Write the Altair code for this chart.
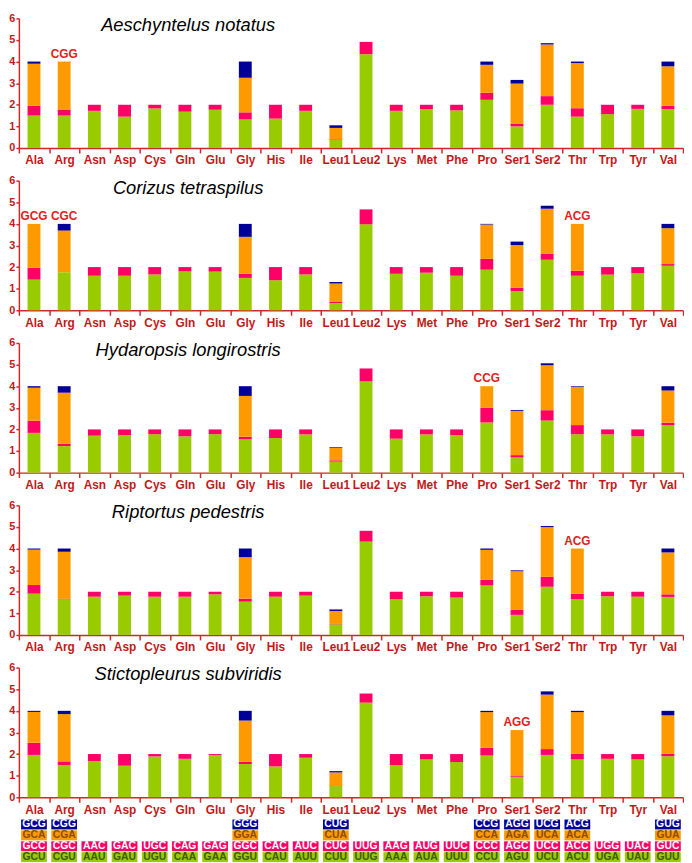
import altair as alt
import pandas as pd

amino = ["Ala", "Arg", "Asn", "Asp", "Cys", "Gln", "Glu", "Gly", "His", "Ile", "Leu1",
         "Leu2", "Lys", "Met", "Phe", "Pro", "Ser1", "Ser2", "Thr", "Trp", "Tyr", "Val"]

species = ["Aeschyntelus notatus", "Corizus tetraspilus", "Hydaropsis longirostris",
           "Riptortus pedestris", "Stictopleurus subviridis"]

# codon position 1 (green, bottom) .. 4 (navy, top)
positions = ["c1", "c2", "c3", "c4"]

an_c1 = [1.50, 1.50, 1.72, 1.45, 1.83, 1.68, 1.77, 1.32, 1.36, 1.72, 0.37, 4.34, 1.72, 1.80, 1.74, 2.23, 1.00, 2.00, 1.45, 1.57, 1.81, 1.80]
an_c2 = [0.45, 0.28, 0.28, 0.55, 0.17, 0.32, 0.23, 0.33, 0.64, 0.28, 0.03, 0.57, 0.28, 0.20, 0.26, 0.33, 0.11, 0.40, 0.39, 0.43, 0.19, 0.16]
an_c3 = [1.95, 2.22, 0, 0, 0, 0, 0, 1.60, 0, 0, 0.53, 0, 0, 0, 0, 1.29, 1.87, 2.39, 2.09, 0, 0, 1.82]
an_c4 = [0.10, 0, 0, 0, 0, 0, 0, 0.75, 0, 0, 0.12, 0, 0, 0, 0, 0.15, 0.17, 0.06, 0.07, 0, 0, 0.22]

ct_c1 = [1.42, 1.76, 1.60, 1.60, 1.66, 1.80, 1.79, 1.50, 1.39, 1.66, 0.34, 3.98, 1.69, 1.74, 1.60, 1.88, 0.89, 2.34, 1.60, 1.65, 1.71, 2.06]
ct_c2 = [0.55, 0, 0.40, 0.40, 0.34, 0.20, 0.21, 0.19, 0.61, 0.34, 0.07, 0.69, 0.31, 0.26, 0.40, 0.50, 0.15, 0.27, 0.23, 0.35, 0.29, 0.08]
ct_c3 = [2.03, 1.93, 0, 0, 0, 0, 0, 1.71, 0, 0, 0.83, 0, 0, 0, 0, 1.59, 1.98, 2.09, 2.17, 0, 0, 1.66]
ct_c4 = [0, 0.31, 0, 0, 0, 0, 0, 0.60, 0, 0, 0.07, 0, 0, 0, 0, 0.03, 0.16, 0.14, 0, 0, 0, 0.20]

hl_c1 = [1.84, 1.23, 1.71, 1.74, 1.78, 1.68, 1.78, 1.54, 1.60, 1.77, 0.51, 4.22, 1.57, 1.77, 1.74, 2.32, 0.70, 2.41, 1.78, 1.77, 1.68, 2.19]
hl_c2 = [0.56, 0.10, 0.29, 0.26, 0.22, 0.32, 0.22, 0.12, 0.40, 0.23, 0.06, 0.60, 0.43, 0.23, 0.26, 0.69, 0.11, 0.48, 0.42, 0.23, 0.32, 0.12]
hl_c3 = [1.53, 2.37, 0, 0, 0, 0, 0, 1.89, 0, 0, 0.58, 0, 0, 0, 0, 0.99, 2.05, 2.08, 1.77, 0, 0, 1.49]
hl_c4 = [0.07, 0.30, 0, 0, 0, 0, 0, 0.45, 0, 0, 0.03, 0, 0, 0, 0, 0, 0.04, 0.09, 0.03, 0, 0, 0.20]

rp_c1 = [1.91, 1.65, 1.77, 1.82, 1.77, 1.77, 1.88, 1.54, 1.77, 1.82, 0.49, 4.32, 1.65, 1.79, 1.73, 2.29, 0.93, 2.23, 1.65, 1.79, 1.77, 1.76]
rp_c2 = [0.40, 0.02, 0.23, 0.18, 0.23, 0.23, 0.12, 0.14, 0.23, 0.18, 0.02, 0.50, 0.35, 0.21, 0.27, 0.26, 0.23, 0.46, 0.26, 0.21, 0.23, 0.12]
rp_c3 = [1.64, 2.18, 0, 0, 0, 0, 0, 1.92, 0, 0, 0.60, 0, 0, 0, 0, 1.39, 1.79, 2.30, 2.09, 0, 0, 1.94]
rp_c4 = [0.05, 0.15, 0, 0, 0, 0, 0, 0.40, 0, 0, 0.07, 0, 0, 0, 0, 0.06, 0.04, 0.05, 0, 0, 0, 0.18]

ss_c1 = [1.96, 1.49, 1.68, 1.46, 1.89, 1.78, 1.95, 1.54, 1.43, 1.83, 0.54, 4.38, 1.49, 1.75, 1.63, 1.93, 0.95, 1.96, 1.75, 1.78, 1.75, 1.90]
ss_c2 = [0.56, 0.17, 0.32, 0.54, 0.11, 0.22, 0.05, 0.11, 0.57, 0.17, 0.02, 0.42, 0.51, 0.25, 0.37, 0.36, 0.06, 0.27, 0.27, 0.22, 0.25, 0.12]
ss_c3 = [1.43, 2.19, 0, 0, 0, 0, 0, 1.90, 0, 0, 0.59, 0, 0, 0, 0, 1.65, 2.10, 2.52, 1.92, 0, 0, 1.77]
ss_c4 = [0.05, 0.15, 0, 0, 0, 0, 0, 0.45, 0, 0, 0.06, 0, 0, 0, 0, 0.06, 0, 0.15, 0.06, 0, 0, 0.21]

series = [
    [an_c1, an_c2, an_c3, an_c4],
    [ct_c1, ct_c2, ct_c3, ct_c4],
    [hl_c1, hl_c2, hl_c3, hl_c4],
    [rp_c1, rp_c2, rp_c3, rp_c4],
    [ss_c1, ss_c2, ss_c3, ss_c4],
]

# missing codons marked above bars: (panel, amino acid, codon)
missing = [(0, "Arg", "CGG"), (1, "Ala", "GCG"), (1, "Arg", "CGC"), (1, "Thr", "ACG"),
           (2, "Pro", "CCG"), (3, "Thr", "ACG"), (4, "Ser1", "AGG")]

codons = [
    ["GCU", "GCC", "GCA", "GCG"], ["CGU", "CGC", "CGA", "CGG"], ["AAU", "AAC"], ["GAU", "GAC"],
    ["UGU", "UGC"], ["CAA", "CAG"], ["GAA", "GAG"], ["GGU", "GGC", "GGA", "GGG"],
    ["CAU", "CAC"], ["AUU", "AUC"], ["CUU", "CUC", "CUA", "CUG"], ["UUG", "UUG"],
    ["AAA", "AAG"], ["AUA", "AUG"], ["UUU", "UUC"], ["CCU", "CCC", "CCA", "CCG"],
    ["AGU", "AGC", "AGA", "AGG"], ["UCU", "UCC", "UCA", "UCG"], ["ACU", "ACC", "ACA", "ACG"],
    ["UGA", "UGG"], ["UAU", "UAC"], ["GUU", "GUC", "GUA", "GUG"],
]

yticks = [0, 1, 2, 3, 4, 5, 6]

fill_colors = ["#99CC00", "#FF0066", "#FF9900", "#000099"]
text_colors = ["#3F5A00", "#FFFFFF", "#8A4E00", "#FFFFFF"]

RED = "#C41818"
AXIS_RED = "#CC2A2A"
FONT = "Liberation Sans"
W = 671
H = 131

xscale = alt.Scale(domain=amino, paddingInner=0, paddingOuter=0)
yscale = alt.Scale(domain=[0, 6], nice=False)
cscale = alt.Scale(domain=positions, range=fill_colors)
xaxis = alt.Axis(labelAngle=0, tickBand="extent", tickSize=5, labelPadding=2,
                 labelFontSize=12, domainWidth=1.5)
yaxis = alt.Axis(values=yticks, tickSize=3, labelPadding=1, labelFontSize=11,
                 domainWidth=1.5, format="d", labelOverlap=False)


def panel(i):
    rows = []
    for j, a in enumerate(amino):
        for k in range(4):
            v = series[i][k][j]
            if v > 0:
                rows.append({"aa": a, "pos": positions[k], "k": k, "rscu": v})
    df = pd.DataFrame(rows)
    x = alt.X("aa:N", sort=amino, scale=xscale, title=None, axis=xaxis)
    bars = alt.Chart(df).mark_bar(width=13).encode(
        x=x,
        y=alt.Y("rscu:Q", stack="zero", title=None, scale=yscale, axis=yaxis),
        color=alt.Color("pos:N", scale=cscale, legend=None),
        order=alt.Order("k:Q", sort="ascending"),
    )
    ann = []
    for (p, a, c) in missing:
        if p == i:
            j = amino.index(a)
            tot = sum(series[i][k][j] for k in range(4))
            ann.append({"aa": a, "rscu": tot, "cod": c})
    layers = [bars]
    if ann:
        layers.append(alt.Chart(pd.DataFrame(ann)).mark_text(
            font=FONT, fontWeight="bold", fontSize=12, color="#E3201B", dy=-8,
            baseline="middle").encode(
                x=x, y=alt.Y("rscu:Q", title=None, scale=yscale, axis=yaxis),
                text="cod:N"))
    layers.append(alt.Chart(pd.DataFrame({"t": [species[i]]})).mark_text(
        font=FONT, fontStyle="italic", fontSize=18.5, color="black", align="center",
        baseline="middle").encode(text="t:N", x=alt.value(171), y=alt.value(7)))
    return alt.layer(*layers).properties(width=W, height=H)


trows = []
for j, a in enumerate(amino):
    for k, c in enumerate(codons[j]):
        trows.append({"aa": a, "pos": positions[k], "cod": c, "tcol": text_colors[k]})
tdf = pd.DataFrame(trows)

tx = alt.X("aa:N", sort=amino, scale=xscale, axis=None)
ty = alt.Y("pos:N", scale=alt.Scale(domain=positions[::-1], paddingInner=0, paddingOuter=0), axis=None)
rects = alt.Chart(tdf).mark_rect(width=26, height=10).encode(
    x=tx, y=ty, color=alt.Color("pos:N", scale=cscale, legend=None))
texts = alt.Chart(tdf).mark_text(font=FONT, fontWeight="bold", fontSize=10.5,
                                 baseline="middle").encode(
    x=tx, y=ty, text="cod:N", color=alt.Color("tcol:N", scale=None))
table = alt.layer(rects, texts).properties(width=W, height=44)

chart = alt.vconcat(
    alt.vconcat(*[panel(i) for i in range(5)], spacing=9),
    table, spacing=4,
).properties(padding=0).configure_view(stroke=None).configure_axis(
    domainColor=AXIS_RED, tickColor=AXIS_RED, labelColor=RED, labelFont=FONT,
    labelFontWeight="bold", grid=False, tickWidth=1.5,
)

chart.save("out.html", embed_options={"renderer": "svg", "actions": False})
